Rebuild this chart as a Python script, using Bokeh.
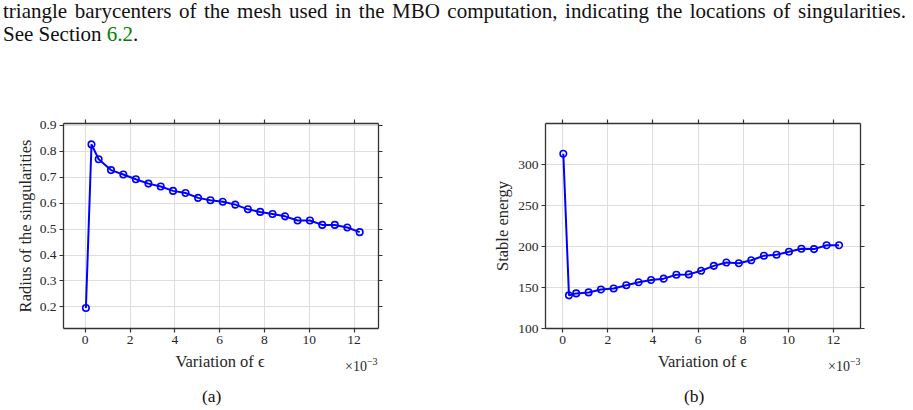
from bokeh.plotting import figure
from bokeh.models import Range1d, FixedTicker, LinearAxis, Div
from bokeh.layouts import column, row
from bokeh.embed import file_html
from bokeh.resources import INLINE

# ---- data (epsilon in units of 1e-3) ----
eps = [0.03, 0.28, 0.60, 1.15, 1.70, 2.26, 2.82, 3.37, 3.92, 4.48, 5.04, 5.59,
       6.14, 6.70, 7.26, 7.81, 8.36, 8.92, 9.48, 10.03, 10.58, 11.14, 11.70, 12.25]
radius = [0.196, 0.826, 0.769, 0.727, 0.710, 0.692, 0.675, 0.664, 0.647, 0.639,
          0.620, 0.611, 0.605, 0.594, 0.576, 0.566, 0.558, 0.549, 0.533, 0.533,
          0.516, 0.516, 0.506, 0.488]
energy = [313.2, 140.4, 142.8, 144.0, 147.6, 148.8, 152.8, 156.4, 159.2, 160.8,
          165.6, 166.0, 170.4, 176.4, 180.4, 179.6, 183.2, 188.8, 190.0, 193.6,
          197.2, 196.8, 201.6, 201.6]
x_ticks = [0, 2, 4, 6, 8, 10, 12]
radius_ticks = [0.2, 0.3, 0.4, 0.5, 0.6, 0.7, 0.8, 0.9]
energy_ticks = [100, 150, 200, 250, 300]

caption_line1 = ("triangle barycenters of the mesh used in the MBO computation, "
                 "indicating the locations of singularities.")
caption_see = "See Section "
caption_ref = "6.2"
x_label = "Variation of ϵ"
sub_labels = ["(a)", "(b)"]

FONT = "Liberation Serif"
AX = "#333333"
TXT = "#262626"
BLUE = "#0000ff"
CAP_H = 100
FIG_H = 254


def style_axis(ax, ticks, show_labels):
    ax.ticker = FixedTicker(ticks=ticks)
    ax.axis_line_color = AX
    ax.axis_line_width = 1.3
    ax.major_tick_line_color = AX
    ax.major_tick_line_width = 1.2
    ax.major_tick_out = 4
    ax.major_tick_in = 0
    ax.minor_tick_line_color = None
    ax.major_label_text_font = FONT
    ax.major_label_text_font_size = "13.5px"
    ax.major_label_text_color = TXT
    ax.major_label_standoff = 3
    ax.axis_label_text_font = FONT
    ax.axis_label_text_font_size = "16.5px"
    ax.axis_label_text_font_style = "normal"
    ax.axis_label_text_color = TXT
    if not show_labels:
        ax.major_label_text_color = None


def panel(ys, xr, yr, yticks, ylabel, ylabel_standoff, width, mtop, mleft,
          mright, fh):
    p = figure(width=width, height=FIG_H,
               x_range=Range1d(*xr), y_range=Range1d(*yr),
               output_backend="svg", toolbar_location=None,
               min_border_left=mleft, min_border_right=mright,
               min_border_top=mtop, min_border_bottom=FIG_H - mtop - fh)
    p.outline_line_color = None
    p.background_fill_color = "white"
    p.border_fill_color = "white"
    p.margin = (0, 0, 0, 0)
    style_axis(p.xaxis[0], x_ticks, True)
    style_axis(p.yaxis[0], yticks, True)
    p.yaxis[0].axis_label = ylabel
    p.yaxis[0].axis_label_standoff = ylabel_standoff
    ra = LinearAxis()
    style_axis(ra, yticks, False)
    p.add_layout(ra, "right")
    ta = LinearAxis()
    style_axis(ta, x_ticks, False)
    p.add_layout(ta, "above")
    p.xgrid.ticker = FixedTicker(ticks=x_ticks)
    p.ygrid.ticker = FixedTicker(ticks=yticks)
    p.grid.grid_line_color = "#dedede"
    p.grid.grid_line_width = 1

    p.line(eps, ys, line_color=BLUE, line_width=2)
    p.scatter(eps, ys, marker="circle", size=6.5, line_color=BLUE,
              fill_color=None, line_width=1.6)
    return p


pa = panel(radius, (-0.97, 13.09), (0.117, 0.9065), radius_ticks,
           "Radius of the singularities", 2, 456, 23, 63, 78, 205)
pb = panel(energy, (-0.76, 13.2), (100, 350), energy_ticks,
           "Stable energy", 3, 457, 21, 89, 53, 207)

cap = Div(
    text=(
        f'<div style="font-family:\'{FONT}\';font-size:21px;'
        f'color:#111;width:903px;margin:0 0 0 3px;">'
        f'<div style="line-height:22px;text-align:justify;text-align-last:justify;">'
        f'{caption_line1}</div>'
        f'<div style="line-height:25px;">{caption_see}'
        f'<span style="color:#008000;">{caption_ref}</span>.</div>'
        f'</div>'
    ),
    width=913, height=CAP_H, margin=(0, 0, 0, 0),
)

BOT_H = 410 - CAP_H - FIG_H


def abs_span(text, left, top, size, color, center=False, extra=""):
    tr = "translate(-50%,-50%)" if center else "translateY(-50%)"
    return (f'<span style="position:absolute;left:{left}px;top:{top}px;'
            f'transform:{tr};font-size:{size}px;line-height:1;white-space:nowrap;'
            f'color:{color};{extra}">{text}</span>')


mult = '×10<span style="font-size:10px;position:relative;top:-6px;">−3</span>'
below = Div(
    text=(
        f'<div style="position:relative;width:913px;height:{BOT_H}px;'
        f'font-family:\'{FONT}\';">'
        + abs_span(x_label, 220, 8, 16.5, TXT, center=True)
        + abs_span(x_label, 702.5, 8, 16.5, TXT, center=True)
        + abs_span(mult, 345, 13, 14, TXT)
        + abs_span(mult, 828, 13, 14, TXT)
        + abs_span(sub_labels[0], 202, 43, 17.5, "#111")
        + abs_span(sub_labels[1], 684, 43, 17.5, "#111")
        + '</div>'
    ),
    width=913, height=BOT_H, margin=(0, 0, 0, 0),
)

layout = column(cap, row(pa, pb, spacing=0), below, spacing=0)
open("out.html", "w").write(file_html(layout, INLINE))
